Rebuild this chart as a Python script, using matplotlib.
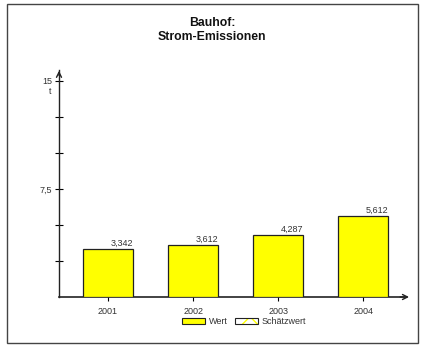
import matplotlib
matplotlib.use('Agg')
import matplotlib.pyplot as plt
from matplotlib.patches import Rectangle, Patch
from matplotlib.legend_handler import HandlerTuple

plt.rcParams['font.family'] = ['Liberation Sans', 'DejaVu Sans']
plt.rcParams['hatch.linewidth'] = 1.0

# daten
jahre = ['2001', '2002', '2003', '2004']
werte = [3.342, 3.612, 4.287, 5.612]
wert_labels = ['3,342', '3,612', '4,287', '5,612']
ytick_werte = [7.5, 15]
ytick_labels = ['7,5', '15']
minor_ticks = [2.5, 5, 10, 12.5]

fig = plt.figure(figsize=(4.22, 3.45), dpi=100, facecolor='w')

# rahmen aussen
fig.patches.append(Rectangle((7/422, 2/345), 411/422, 339/345, transform=fig.transFigure,
                             fill=False, edgecolor='#444444', linewidth=1.0))

ax = fig.add_axes([59/422, 48/345, (405-59)/422, (297-70)/345])
x = list(range(len(jahre)))
ax.bar(x, werte, width=50/85, color='#ffff00', edgecolor='#222222', linewidth=0.9, zorder=3)

for xi, v, lab in zip(x, werte, wert_labels):
    ax.text(xi + 25/85, v + 0.1, lab, ha='right', va='bottom', fontsize=6.5, color='#333333')

ax.set_xlim(-0.576, 3.49)
ax.set_ylim(0, 15.76)
for s in ['top', 'right']:
    ax.spines[s].set_visible(False)
ax.spines['left'].set_color('#222222')
ax.spines['bottom'].set_color('#222222')
ax.spines['left'].set_linewidth(1.0)
ax.spines['bottom'].set_linewidth(1.2)

# pfeile
ax.annotate('', xy=(3.57, 0), xytext=(3.4, 0), xycoords='data',
            arrowprops=dict(arrowstyle='->', color='#222222', lw=1.0, mutation_scale=9),
            annotation_clip=False)
ax.annotate('', xy=(-0.576, 15.9), xytext=(-0.576, 15.2), xycoords='data',
            arrowprops=dict(arrowstyle='->', color='#222222', lw=1.0, mutation_scale=9),
            annotation_clip=False)

ax.set_xticks(x)
ax.set_xticklabels(jahre, fontsize=6.5, color='#333333')
ax.tick_params(axis='x', direction='out', length=3, width=0.8, pad=4)

ax.set_yticks(ytick_werte)
ax.set_yticklabels(ytick_labels, fontsize=6.5, color='#333333')
ax.set_yticks(minor_ticks, minor=True)
ax.tick_params(axis='y', which='both', direction='inout', length=6, width=0.8, pad=2)
ax.text(-0.66, 14.3, 't', fontsize=6.5, color='#333333', ha='right', va='center')

fig.text(212/422, 1 - 30/345, 'Bauhof:\nStrom-Emissionen', ha='center', va='center',
         fontsize=8.8, fontweight='bold', color='#111111', linespacing=1.3)

# legende
h1 = Patch(facecolor='#ffff00', edgecolor='#222222', linewidth=0.8)
h2a = Patch(facecolor='white', edgecolor='#ffff00', hatch='x', linewidth=0)
h2b = Patch(fill=False, edgecolor='#222222', linewidth=0.8)
leg = fig.legend(handles=[h1, (h2a, h2b)], labels=['Wert', 'Schätzwert'],
                 handler_map={tuple: HandlerTuple(ndivide=1, pad=0)},
                 loc='center', bbox_to_anchor=(244/422, 1 - 322/345), ncol=2,
                 frameon=False, fontsize=6.5, handlelength=2.6, handleheight=0.6,
                 columnspacing=0.8, handletextpad=0.4)
for t in leg.get_texts():
    t.set_color('#333333')

plt.savefig('out.png', dpi=100)
